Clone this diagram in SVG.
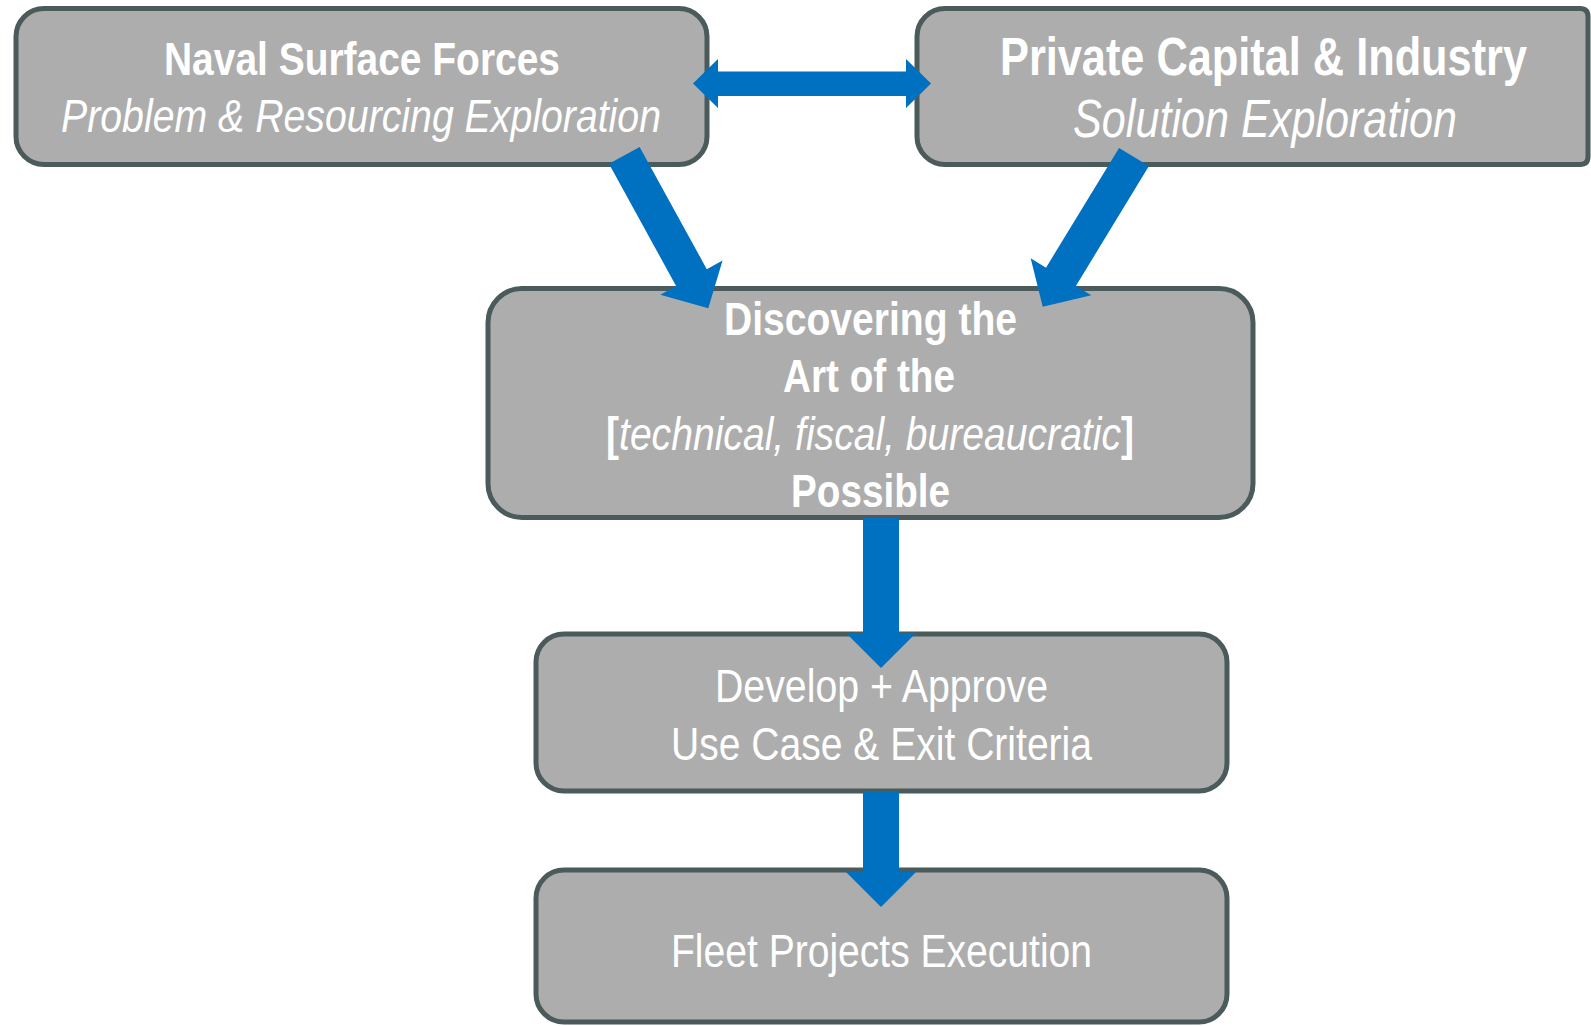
<svg xmlns="http://www.w3.org/2000/svg" width="1591" height="1026" viewBox="0 0 1591 1026">
<style>
.box{fill:#adadad;stroke:#4b5a5a;stroke-width:5}
.t{fill:#ffffff;font-family:"Liberation Sans Narrow","Liberation Sans",Arial,sans-serif;font-size:47px}
.b{font-weight:bold}
.i{font-style:italic}
.big{font-size:53px}
.arr{fill:#0070c0}
</style>
<rect width="1591" height="1026" fill="#ffffff"/>
<g id="node-naval">
<rect class="box" x="16" y="8.5" width="691" height="156" rx="28"/>
<text class="t b" x="164" y="75" textLength="396" lengthAdjust="spacingAndGlyphs">Naval Surface Forces</text>
<text class="t i" x="61" y="132" textLength="600" lengthAdjust="spacingAndGlyphs">Problem &amp; Resourcing Exploration</text>
</g>
<g id="node-private">
<path class="box" d="M945 8.5 H1580 Q1588 8.5 1588 16.5 V156.5 Q1588 164.5 1580 164.5 H945 A28 28 0 0 1 917 136.5 V36.5 A28 28 0 0 1 945 8.5 Z"/>
<text class="t b big" x="1000" y="75" textLength="527" lengthAdjust="spacingAndGlyphs">Private Capital &amp; Industry</text>
<text class="t i big" x="1073" y="137" textLength="384" lengthAdjust="spacingAndGlyphs">Solution Exploration</text>
</g>
<g id="node-discovering">
<rect class="box" x="488" y="288.5" width="765" height="229" rx="34"/>
<text class="t b" x="724" y="335" textLength="293" lengthAdjust="spacingAndGlyphs">Discovering the</text>
<text class="t b" x="783" y="392" textLength="172" lengthAdjust="spacingAndGlyphs">Art of the</text>
<text class="t" x="606" y="450" textLength="528" lengthAdjust="spacingAndGlyphs"><tspan class="b">[</tspan><tspan class="i">technical, fiscal, bureaucratic</tspan><tspan class="b">]</tspan></text>
<text class="t b" x="791" y="507" textLength="159" lengthAdjust="spacingAndGlyphs">Possible</text>
</g>
<g id="node-develop">
<rect class="box" x="536" y="634" width="691" height="157" rx="28"/>
<text class="t" x="715" y="702" textLength="333" lengthAdjust="spacingAndGlyphs">Develop + Approve</text>
<text class="t" x="671" y="760" textLength="421" lengthAdjust="spacingAndGlyphs">Use Case &amp; Exit Criteria</text>
</g>
<g id="node-fleet">
<rect class="box" x="536" y="870" width="691" height="152" rx="28"/>
<text class="t" x="671" y="967" textLength="421" lengthAdjust="spacingAndGlyphs">Fleet Projects Execution</text>
</g>
<g id="connectors">
<polygon class="arr" points="693,83.5 718,59 718,71.5 906,71.5 906,59 931,83.5 906,108 906,96 718,96 718,108"/>
<polygon class="arr" transform="translate(624.3,155.3) rotate(61.23)" points="0,-17.5 139.5,-17.5 139.5,-35.5 174.5,0 139.5,35.5 139.5,17.5 0,17.5"/>
<polygon class="arr" transform="translate(1134,157) rotate(121.37)" points="0,-17.5 140.3,-17.5 140.3,-35.5 175.3,0 140.3,35.5 140.3,17.5 0,17.5"/>
<polygon class="arr" points="863,518 899,518 899,633 916,633 881,668 846,633 863,633"/>
<polygon class="arr" points="863,791 899,791 899,872 916,872 881,907 846,872 863,872"/>
</g>
</svg>
